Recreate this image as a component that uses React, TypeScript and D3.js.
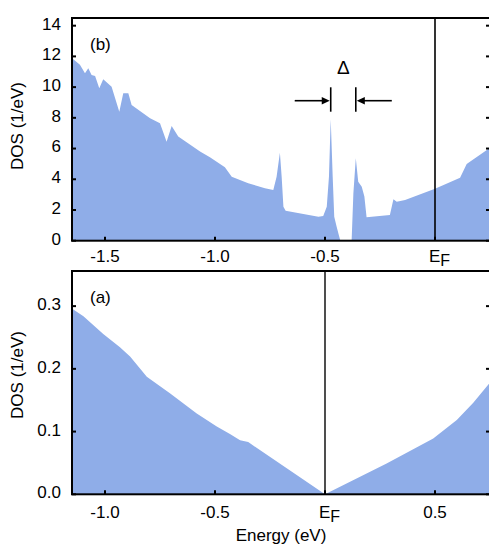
import React from 'react';
import * as d3 from 'd3';

// panel (b): DOS with the gap
const energyB = [
  -1.65, -1.644, -1.614, -1.591, -1.576, -1.561, -1.545, -1.526, -1.508, -1.47,
  -1.435, -1.417, -1.394, -1.379, -1.295, -1.25, -1.22, -1.197, -1.167, -1.068,
  -1.023, -0.955, -0.924, -0.849, -0.773, -0.735, -0.72, -0.705, -0.697, -0.689,
  -0.679, -0.53, -0.508, -0.492, -0.482, -0.474, -0.465, -0.458, -0.447, -0.437,
  -0.43, -0.379, -0.371, -0.36, -0.349, -0.333, -0.321, -0.311, -0.205, -0.189,
  -0.174, -0.136, 0, 0.114, 0.144, 0.25,
];
const dosB = [
  11.85, 11.82, 11.45, 10.9, 11.23, 10.79, 10.73, 9.93, 10.51, 10.03,
  8.4, 9.6, 9.6, 8.84, 7.97, 7.65, 6.45, 7.47, 6.78, 5.8,
  5.43, 4.78, 4.17, 3.74, 3.41, 3.3, 4.17, 5.73, 4.17, 2.21,
  1.95, 1.56, 1.61, 2.21, 4.17, 7.9, 4.17, 1.56, 0.91, 0.35,
  0, 0, 3.09, 5.37, 3.84, 3.52, 2.87, 1.52, 1.67, 2.7,
  2.54, 2.65, 3.38, 4.1, 5.0, 6.05,
];

// panel (a): DOS of the gapless case
const energyA = [
  -1.15, -1.144, -1.098, -1.008, -0.932, -0.886, -0.81, -0.705, -0.583, -0.492,
  -0.432, -0.386, -0.349, 0, 0.28, 0.492, 0.599, 0.674, 0.75,
];
const dosA = [
  0.296, 0.2946, 0.284, 0.2557, 0.2344, 0.2195, 0.1876, 0.161, 0.129, 0.108,
  0.0962, 0.0862, 0.0832, 0, 0.049, 0.089, 0.1185, 0.146, 0.178,
];

const xTicksB = [-1.5, -1.0, -0.5, 0];
const yTicksB = [0, 2, 4, 6, 8, 10, 12, 14];
const xTicksA = [-1.0, -0.5, 0, 0.5];
const yTicksA = [0, 0.1, 0.2, 0.3];
// gap edges used for the Delta marker
const gapEdges = [-0.474, -0.36];

const FONT = '"Liberation Sans", Arial, Helvetica, sans-serif';
const FS = 17;
const FILL = '#8fade8';

type PanelProps = {
  energy: number[];
  dos: number[];
  xDomain: [number, number];
  yDomain: [number, number];
  top: number;
  bottom: number;
  xTicks: number[];
  yTicks: number[];
  yFormat: (v: number) => string;
  label: string;
  labelY: number;
  titleY: number;
  tickLabelGap: number;
  efColor: string;
  children?: (x: d3.ScaleLinear<number, number>, y: d3.ScaleLinear<number, number>) => React.ReactNode;
};

const LEFT = 72;
const RIGHT = 490;

function Panel(p: PanelProps) {
  const x = d3.scaleLinear().domain(p.xDomain).range([LEFT, RIGHT]);
  const y = d3.scaleLinear().domain(p.yDomain).range([p.bottom, p.top]);
  const pts = p.energy.map((e, i) => [e, p.dos[i]] as [number, number]);
  const area = d3.area<[number, number]>()
    .x(d => x(d[0]))
    .y0(y(0))
    .y1(d => y(d[1]))
    .curve(d3.curveLinear);
  const tl = 4;

  return (
    <g>
      <path d={area(pts) || ''} fill={FILL} />
      <line x1={x(0)} x2={x(0)} y1={p.top} y2={p.bottom} stroke={p.efColor} strokeWidth={1.6} />
      {p.children && p.children(x, y)}
      <rect x={LEFT} y={p.top} width={RIGHT - LEFT} height={p.bottom - p.top}
        fill="none" stroke="#000" strokeWidth={2} />
      {p.xTicks.map(t => (
        <g key={'x' + t}>
          <line x1={x(t)} x2={x(t)} y1={p.bottom} y2={p.bottom - tl} stroke="#000" strokeWidth={2} />
          {t === 0 ? (
            <text x={x(t) - 6} y={p.bottom + p.tickLabelGap} fontSize={FS} fontFamily={FONT}>
              E<tspan dy={4} fontSize={16}>F</tspan>
            </text>
          ) : (
            <text x={x(t)} y={p.bottom + p.tickLabelGap} fontSize={FS} fontFamily={FONT}
              textAnchor="middle">{d3.format('.1f')(t).replace('−', '-')}</text>
          )}
        </g>
      ))}
      {p.yTicks.map(t => (
        <g key={'y' + t}>
          <line x1={LEFT} x2={LEFT + tl} y1={y(t)} y2={y(t)} stroke="#000" strokeWidth={2} />
          <line x1={RIGHT - tl} x2={RIGHT} y1={y(t)} y2={y(t)} stroke="#000" strokeWidth={2} />
          <text x={61} y={y(t) - 2} dy="0.35em" fontSize={FS} fontFamily={FONT}
            textAnchor="end">{p.yFormat(t)}</text>
        </g>
      ))}
      <text x={90} y={p.titleY} fontSize={FS} fontFamily={FONT}>{p.label}</text>
      <text transform={`translate(23,${p.labelY}) rotate(-90)`} fontSize={FS} fontFamily={FONT}
        textAnchor="middle">DOS (1/eV)</text>
    </g>
  );
}

export default function App() {
  return (
    <svg width={489} height={546} style={{ position: 'absolute', left: 0, top: 0, background: '#fff' }}>
      <Panel
        energy={energyB} dos={dosB}
        xDomain={[-1.65, 0.25]} yDomain={[0, 14.5]}
        top={18} bottom={240.7}
        xTicks={xTicksB} yTicks={yTicksB}
        yFormat={v => String(v)}
        label="(b)" titleY={50} labelY={126} tickLabelGap={21.5}
        efColor="#000"
      >
        {(x) => {
          const xa = x(gapEdges[0]);
          const xb = x(gapEdges[1]);
          const ay = 100.7;
          const head = 9;
          return (
            <g>
              <text x={(xa + xb) / 2} y={74} fontSize={19} fontFamily={FONT} textAnchor="middle">Δ</text>
              <line x1={xa} x2={xa} y1={87.3} y2={111.7} stroke="#000" strokeWidth={1.6} />
              <line x1={xb} x2={xb} y1={87.3} y2={111.7} stroke="#000" strokeWidth={1.6} />
              <line x1={xa - 36} x2={xa - head + 1} y1={ay} y2={ay} stroke="#000" strokeWidth={1.6} />
              <path d={`M${xa - 1},${ay} L${xa - head},${ay - 3.8} L${xa - head},${ay + 3.8} Z`} fill="#000" />
              <line x1={xb + 36} x2={xb + head - 1} y1={ay} y2={ay} stroke="#000" strokeWidth={1.6} />
              <path d={`M${xb + 1},${ay} L${xb + head},${ay - 3.8} L${xb + head},${ay + 3.8} Z`} fill="#000" />
            </g>
          );
        }}
      </Panel>
      <Panel
        energy={energyA} dos={dosA}
        xDomain={[-1.15, 0.75]} yDomain={[0, 0.356]}
        top={271} bottom={494.3}
        xTicks={xTicksA} yTicks={yTicksA}
        yFormat={v => d3.format('.1f')(v)}
        label="(a)" titleY={303} labelY={375} tickLabelGap={24}
        efColor="#222"
      />
      <text x={281} y={541} fontSize={FS} fontFamily={FONT} textAnchor="middle">Energy (eV)</text>
    </svg>
  );
}
